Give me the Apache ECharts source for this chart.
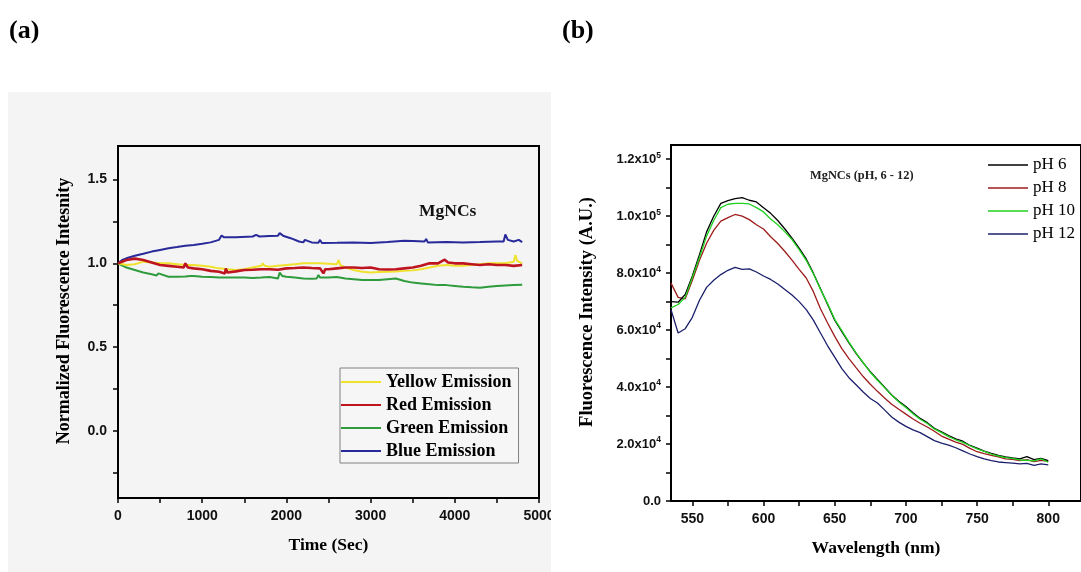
<!DOCTYPE html>
<html>
<head>
<meta charset="utf-8">
<script src="https://cdn.jsdelivr.net/npm/echarts@6/dist/echarts.min.js"></script>
<style>
html,body{margin:0;padding:0;background:#fff;}
#c{width:1081px;height:572px;}
</style>
</head>
<body>
<div id="c"></div>
<script>
// ---------- Panel (a): normalized fluorescence vs time ----------
const yellowT = [0,100,200,300,400,500,600,700,800,900,1000,1100,1200,1300,1400,1500,1600,1700,1720,1740,1800,1900,2000,2100,2200,2300,2400,2500,2600,2620,2640,2700,2800,2900,3000,3100,3200,3300,3400,3500,3600,3700,3800,3900,4000,4100,4200,4300,4400,4500,4600,4700,4720,4740,4800];
const yellowV = [1.0,0.99,0.995,1.01,1.005,1.0,1.0,0.995,0.99,0.99,0.985,0.98,0.97,0.965,0.96,0.965,0.975,0.985,1.0,0.985,0.98,0.985,0.99,0.995,1.0,1.0,1.0,0.998,0.995,1.02,0.99,0.975,0.96,0.95,0.945,0.948,0.95,0.952,0.955,0.958,0.965,0.975,0.985,0.99,0.985,0.985,0.99,0.995,1.0,1.0,1.0,1.01,1.05,1.015,1.0];
const redT = [0,100,200,300,400,500,600,700,780,800,830,900,1000,1100,1200,1270,1280,1300,1400,1500,1600,1700,1800,1900,2000,2100,2200,2300,2400,2440,2460,2500,2600,2700,2800,2900,3000,3100,3200,3300,3400,3500,3600,3700,3800,3880,3920,4000,4100,4200,4300,4400,4500,4600,4700,4800];
const redV = [1.0,1.02,1.028,1.02,1.005,0.99,0.985,0.98,0.975,1.0,0.975,0.97,0.965,0.955,0.95,0.94,0.97,0.945,0.952,0.96,0.962,0.965,0.965,0.962,0.97,0.972,0.975,0.972,0.97,0.94,0.965,0.965,0.97,0.975,0.975,0.972,0.975,0.965,0.963,0.965,0.97,0.975,0.985,1.0,1.0,1.022,1.005,1.0,1.0,0.995,0.99,0.995,0.99,0.99,0.985,0.99];
const greenT = [0,100,200,300,400,460,480,500,600,700,800,860,880,900,1000,1100,1200,1300,1400,1500,1600,1700,1800,1900,1920,1950,2000,2100,2200,2300,2360,2380,2400,2500,2600,2700,2800,2900,3000,3100,3200,3300,3400,3500,3600,3700,3800,3900,4000,4100,4200,4300,4400,4500,4600,4700,4800];
const greenV = [1.0,0.975,0.96,0.945,0.935,0.928,0.94,0.93,0.92,0.92,0.922,0.925,0.935,0.925,0.92,0.918,0.915,0.915,0.915,0.915,0.913,0.915,0.918,0.91,0.945,0.925,0.92,0.915,0.91,0.908,0.91,0.93,0.915,0.915,0.918,0.91,0.905,0.9,0.9,0.9,0.905,0.91,0.895,0.885,0.88,0.875,0.87,0.87,0.865,0.86,0.857,0.855,0.86,0.865,0.868,0.87,0.872];
const blueT = [0,50,100,200,300,400,500,600,700,800,900,1000,1100,1200,1230,1260,1400,1600,1640,1680,1800,1900,1920,1960,2050,2150,2200,2220,2300,2380,2400,2420,2600,2800,3000,3200,3400,3500,3640,3660,3680,3900,4100,4300,4500,4580,4600,4630,4700,4760,4800];
const blueV = [1.0,1.02,1.03,1.045,1.057,1.07,1.08,1.09,1.097,1.105,1.11,1.117,1.125,1.14,1.166,1.155,1.155,1.16,1.17,1.16,1.163,1.165,1.18,1.165,1.15,1.13,1.125,1.14,1.125,1.123,1.14,1.122,1.123,1.125,1.122,1.128,1.135,1.133,1.13,1.145,1.125,1.128,1.125,1.127,1.13,1.13,1.172,1.14,1.13,1.14,1.127];
const namesA = ['Yellow Emission','Red Emission','Green Emission','Blue Emission'];
const yLabelsA = [0, 0.5, 1.0, 1.5];
const yTicksA = [-0.25, 0, 0.25, 0.5, 0.75, 1.0, 1.25, 1.5];

// ---------- Panel (b): spectra vs wavelength ----------
const wavelength = [535,540,545,550,555,560,565,570,575,580,585,590,595,600,605,610,615,620,625,630,635,640,645,650,655,660,665,670,675,680,685,690,695,700,705,710,715,720,725,730,735,740,745,750,755,760,765,770,775,780,785,790,795,800];
const pH6  = [70000,69800,72500,79000,86500,94500,100000,104500,105500,106200,106500,105600,105000,103000,101000,98500,95500,92300,88800,85000,80000,74500,69000,63500,59500,55500,51800,48500,45400,42700,40000,37200,35000,33200,31000,29000,27500,25500,24300,23000,21800,21000,19500,18600,17500,16700,16000,15500,15100,14800,15600,14500,15000,14200];
const pH8  = [76500,71500,71000,77500,84500,90500,95000,98300,99500,100600,100000,98800,97000,95500,92800,90400,87600,84600,81300,78300,73500,67500,62500,57800,53500,50000,46800,43700,41000,38500,36200,34000,32200,30500,28800,27300,26000,24500,22800,21700,20700,19900,18500,17300,16600,16000,15500,14800,14600,14200,14500,13800,14300,13900];
const pH10 = [67800,69000,71500,78500,85500,93000,98500,103000,104200,104500,104500,104300,103000,101500,99000,97000,94500,91800,88300,84500,79800,74300,69300,63800,59800,55800,52000,48600,45200,42400,39800,37100,34800,32800,30600,28700,27200,25300,24000,22600,21500,20600,19400,18300,17400,16500,15800,15200,15000,14400,14300,14100,14800,13600];
const pH12 = [67200,59000,60500,64500,70500,75000,77500,79500,81000,82000,81300,81500,80400,79000,77800,76200,74300,72300,70000,67200,63500,59000,54500,50500,46500,43300,40800,38300,36000,34400,32000,29500,27700,26200,25000,24000,22600,21200,20300,19600,18700,17600,16500,15600,14800,14200,13700,13500,13300,13000,13200,12500,13000,12700];
const namesB = ['pH 6','pH 8','pH 10','pH 12'];
const xLabelsB = [550,600,650,700,750,800];
const xTicksB = [550,575,600,625,650,675,700,725,750,775,800];
const yValuesB = [0,20000,40000,60000,80000,100000,120000];
const yTicksB = [0,10000,20000,30000,40000,50000,60000,70000,80000,90000,100000,110000,120000];

const SERIF = "'Liberation Serif','Times New Roman',serif";
const SANS = "'Liberation Sans',Arial,sans-serif";

function pairs(t, v){ return t.map((x,i)=>[x, v[i]]); }
function pairsB(v){ return wavelength.map((x,i)=>[x, v[i]]); }

const colorsA = ['#f0e22c','#bd1420','#2e9b3c','#28299a'];
const colorsB = ['#000000','#9e1c1c','#1fd21f','#1b1f6b'];
const dataA = [pairs(yellowT,yellowV), pairs(redT,redV), pairs(greenT,greenV), pairs(blueT,blueV)];
const dataB = [pairsB(pH6), pairsB(pH8), pairsB(pH10), pairsB(pH12)];

function fmtB(v){
  if (v === 0) return '{m|0.0}';
  const e = Math.floor(Math.log10(v) + 1e-9);
  const m = (v / Math.pow(10, e)).toFixed(1);
  return '{m|' + m + 'x10}{s|' + e + '}';
}

const series = [];
namesA.forEach((n,i)=>series.push({
  name:n, type:'line', xAxisIndex:0, yAxisIndex:0, data:dataA[i],
  showSymbol:false, symbol:'none', color:colorsA[i],
  lineStyle:{width: i===1 ? 2.6 : 2, color:colorsA[i]}, z: i===1?4:(i===0?3:2), animation:false
}));
namesB.forEach((n,i)=>series.push({
  name:n, type:'line', xAxisIndex:1, yAxisIndex:1, data:dataB[i],
  showSymbol:false, symbol:'none', color:colorsB[i],
  lineStyle:{width:1.3, color:colorsB[i]}, z: i===2?5:(i===0?4:3), animation:false
}));

const chart = echarts.init(document.getElementById('c'), null, {renderer:'canvas'});
chart.setOption({
  animation:false,
  backgroundColor:'#ffffff',
  graphic:[
    {type:'rect', z:-10, silent:true, shape:{x:8, y:92, width:543, height:480}, style:{fill:'#f4f4f4'}},
    {type:'text', left:9, top:18, z:10, style:{text:'(a)', font:"bold 26px " + SERIF, fill:'#000'}},
    {type:'text', left:562, top:18, z:10, style:{text:'(b)', font:"bold 26px " + SERIF, fill:'#000'}},
    {type:'text', left:419, top:202, z:10, style:{text:'MgNCs', font:"bold 17.5px " + SERIF, fill:'#111'}},
    {type:'text', left:810, top:170, z:10, style:{text:'MgNCs (pH, 6 - 12)', font:"bold 12.4px " + SERIF, fill:'#222'}},
    {type:'text', x:64, y:311, rotation:Math.PI/2, z:10,
      style:{text:'Normalized Fluorescence Intesnity', font:"bold 18px " + SERIF, fill:'#000', align:'center', verticalAlign:'middle'}},
    {type:'text', x:587, y:312, rotation:Math.PI/2, z:10,
      style:{text:'Fluorescence Intensity (A.U.)', font:"bold 18.5px " + SERIF, fill:'#000', align:'center', verticalAlign:'middle'}},
    {type:'rect', z:100, silent:true, shape:{x:551, y:503, width:40, height:30}, style:{fill:'#ffffff'}}
  ],
  grid:[
    {left:118, top:146, width:421, height:352, show:true, borderColor:'#000', borderWidth:2, backgroundColor:'transparent'},
    {left:671, top:145, width:414, height:356, show:true, borderColor:'#000', borderWidth:2, backgroundColor:'transparent'}
  ],
  legend:[
    {
      data:namesA, orient:'vertical', left:340, top:368,
      icon:'rect', itemWidth:40, itemHeight:2, itemGap:3,
      padding:[4,7,2,1], borderColor:'#808080', borderWidth:1, backgroundColor:'#f6f6f6',
      textStyle:{fontFamily:SERIF, fontWeight:'bold', fontSize:18, color:'#000', lineHeight:20},
      selectedMode:false
    },
    {
      data:namesB, orient:'vertical', left:988, top:155,
      icon:'rect', itemWidth:40, itemHeight:1.5, itemGap:3,
      padding:0,
      textStyle:{fontFamily:SERIF, fontSize:17, color:'#000', lineHeight:20},
      selectedMode:false
    }
  ],
  xAxis:[
    {
      gridIndex:0, type:'value', min:0, max:5000, interval:1000,
      name:'Time (Sec)', nameLocation:'middle', nameGap:38,
      nameTextStyle:{fontFamily:SERIF, fontWeight:'bold', fontSize:17.5, color:'#000'},
      axisLine:{onZero:false, lineStyle:{color:'#000', width:2}},
      axisTick:{length:5, lineStyle:{color:'#000', width:1.5}},
      minorTick:{show:true, splitNumber:2, length:5, lineStyle:{color:'#000', width:1.5}},
      splitLine:{show:false},
      axisLabel:{margin:11, fontFamily:SANS, fontWeight:'bold', fontSize:14, color:'#111',
        showMinLabel:true, showMaxLabel:true, formatter:v=>String(v)}
    },
    {
      gridIndex:1, type:'value', min:535, max:823,
      name:'Wavelength (nm)', nameLocation:'middle', nameGap:38,
      nameTextStyle:{fontFamily:SERIF, fontWeight:'bold', fontSize:17.5, color:'#000'},
      axisLine:{onZero:false, lineStyle:{color:'#000', width:2}},
      axisTick:{length:5, customValues:xTicksB, lineStyle:{color:'#000', width:1.5}},
      splitLine:{show:false},
      axisLabel:{margin:11, customValues:xLabelsB, fontFamily:SANS, fontWeight:'bold', fontSize:14, color:'#111', formatter:v=>String(v)}
    }
  ],
  yAxis:[
    {
      gridIndex:0, type:'value', min:-0.4, max:1.7,
      axisLine:{onZero:false, lineStyle:{color:'#000', width:2}},
      axisTick:{length:5, customValues:yTicksA, lineStyle:{color:'#000', width:1.5}},
      splitLine:{show:false},
      axisLabel:{margin:11, customValues:yLabelsA, fontFamily:SANS, fontWeight:'bold', fontSize:14, color:'#111',
        formatter:v=>v.toFixed(1)}
    },
    {
      gridIndex:1, type:'value', min:0, max:125000,
      axisLine:{onZero:false, lineStyle:{color:'#000', width:2}},
      axisTick:{length:5, customValues:yTicksB, lineStyle:{color:'#000', width:1.5}},
      splitLine:{show:false},
      axisLabel:{margin:10, customValues:yValuesB, formatter:fmtB,
        rich:{
          m:{fontFamily:SANS, fontWeight:'bold', fontSize:13, color:'#111'},
          s:{fontFamily:SANS, fontWeight:'bold', fontSize:8.5, color:'#111', verticalAlign:'top', padding:[0,0,8,0]}
        }}
    }
  ],
  series:series
});
</script>
</body>
</html>
